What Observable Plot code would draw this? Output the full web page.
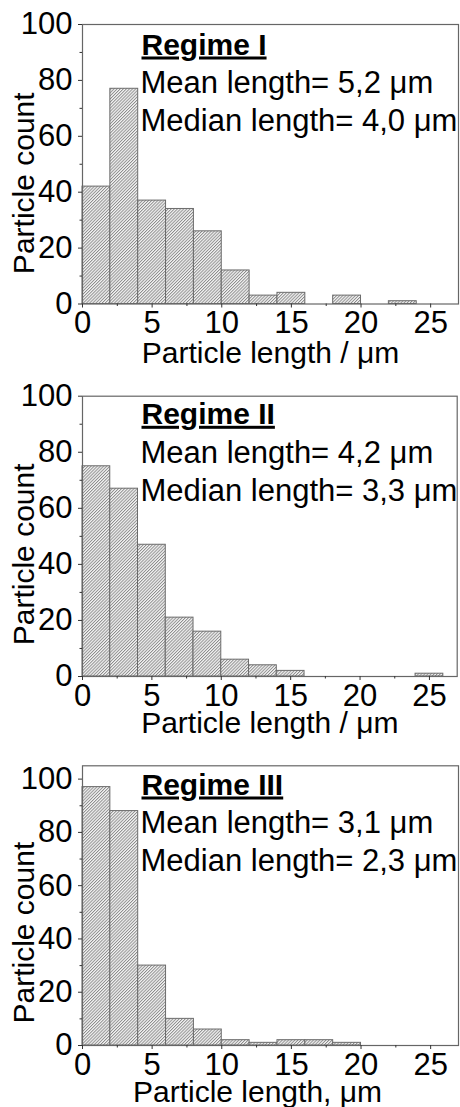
<!DOCTYPE html>
<html><head><meta charset="utf-8">
<script src="https://cdn.jsdelivr.net/npm/d3@7"></script>
<script src="https://cdn.jsdelivr.net/npm/@observablehq/plot@0.6"></script>
<style>
body{margin:0;background:#fff;}
#chart svg{display:block;}
</style>
</head><body><div id="chart"></div>
<script>
// ---- data ----
const binStarts = [0, 2, 4, 6, 8, 10, 12, 14, 16, 18, 20, 22, 24];
const binWidth = 2;
const countsI   = [42, 77, 37, 34, 26, 12, 3, 4, 0, 3, 0, 1, 0];
const countsII  = [75, 67, 47, 21, 16, 6, 4, 2, 0, 0, 0, 0, 1];
const countsIII = [97, 88, 30, 10, 6, 2, 1, 2, 2, 1, 0, 0, 0];
const regimeNames = ["Regime I", "Regime II", "Regime III"];
const meanLengths = ["5,2", "4,2", "3,1"];
const medianLengths = ["4,0", "3,3", "2,3"];
const xLabels = ["Particle length / μm", "Particle length / μm", "Particle length, μm"];
const yLabel = "Particle count";
const xMajorTicks = [0, 5, 10, 15, 20, 25];
const xMinorTicks = [2.5, 7.5, 12.5, 17.5, 22.5];
const yMajorTicks = [0, 20, 40, 60, 80, 100];
const yMinorTicks = [10, 30, 50, 70, 90];
const yMax = [100, 100, 105];
const xMax = 27;

// ---- layout ----
const layout = [
  {height: 370, mt: 24,   mb: 66.5, mr: 2,   xlab: 58.5, xlabDx: 0,   ylabDy: 19, tdy: [30, 68.7, 106]},
  {height: 370, mt: 25.7, mb: 64,   mr: 3.3, xlab: 56,   xlabDx: 0,   ylabDy: 18, tdy: [27.6, 67, 104.3]},
  {height: 367, mt: 25.3, mb: 62,   mr: 2,   xlab: 56.5, xlabDx: -13, ylabDy: 27, tdy: [28.7, 67.4, 104.7]}
];
const allCounts = [countsI, countsII, countsIII];
const FONT = "'Liberation Sans', Arial, Helvetica, sans-serif";
const FS = 30;
const FS_TICK = 31;
const FS_NOTE = 31;

const container = document.getElementById("chart");

allCounts.forEach((counts, i) => {
  const L = layout[i];
  const bins = binStarts.map((s, j) => ({x1: s, x2: s + binWidth, count: counts[j]})).filter(d => d.count > 0);
  const pid = "hatch" + i;
  const svg = Plot.plot({
    width: 460,
    height: L.height,
    marginTop: L.mt,
    marginBottom: L.mb,
    marginLeft: 82,
    marginRight: L.mr,
    style: {fontFamily: FONT, fontSize: FS + "px", color: "#000", background: "#fff"},
    x: {domain: [0, xMax], label: null},
    y: {domain: [0, yMax[i]], label: null},
    marks: [
      Plot.rectY(bins, {x1: "x1", x2: "x2", y: "count", fill: `url(#${pid})`, stroke: "#6b6b6b", strokeWidth: 1}),
      Plot.frame({stroke: "#666", strokeWidth: 1.2}),
      Plot.axisX(xMajorTicks, {tickSize: 4, tickPadding: 3, fontSize: FS_TICK, stroke: "#333", label: null}),
      Plot.axisX(xMinorTicks, {tickSize: 2.5, tickFormat: () => "", stroke: "#333", label: null}),
      Plot.axisY(yMajorTicks, {tickSize: 4, tickPadding: 6, fontSize: FS_TICK, stroke: "#333", label: null}),
      Plot.axisY(yMinorTicks, {tickSize: 2.5, tickFormat: () => "", stroke: "#333", label: null}),
      Plot.text([xLabels[i]], {text: d => d, frameAnchor: "bottom", dx: L.xlabDx, dy: L.xlab, lineAnchor: "bottom", textAnchor: "middle", fontSize: FS}),
      Plot.text([yLabel], {text: d => d, frameAnchor: "left", rotate: -90, dx: -49, dy: L.ylabDy, lineAnchor: "bottom", textAnchor: "middle", fontSize: FS}),
      Plot.text([regimeNames[i]], {text: d => d, frameAnchor: "top-left", dx: 59, dy: L.tdy[0], lineAnchor: "bottom", textAnchor: "start", fontSize: FS, fontWeight: "bold"}),
      Plot.text([`Mean length= ${meanLengths[i]} μm`], {text: d => d, frameAnchor: "top-left", dx: 58, dy: L.tdy[1], lineAnchor: "bottom", textAnchor: "start", fontSize: FS_NOTE}),
      Plot.text([`Median length= ${medianLengths[i]} μm`], {text: d => d, frameAnchor: "top-left", dx: 58, dy: L.tdy[2], lineAnchor: "bottom", textAnchor: "start", fontSize: FS_NOTE})
    ]
  });
  // hatch pattern definition
  const ns = "http://www.w3.org/2000/svg";
  const defs = document.createElementNS(ns, "defs");
  defs.innerHTML = `<pattern id="${pid}" patternUnits="userSpaceOnUse" width="2.2" height="2.2" patternTransform="rotate(45)">
      <rect width="2.2" height="2.2" fill="#f4f4f4"></rect>
      <line x1="0.5" y1="0" x2="0.5" y2="2.2" stroke="#7a7a7a" stroke-width="0.8"></line>
    </pattern>`;
  svg.insertBefore(defs, svg.firstChild);
  // underline the regime title
  svg.querySelectorAll("text").forEach(t => {
    if (regimeNames.includes(t.textContent)) t.setAttribute("text-decoration", "underline");
  });
  container.appendChild(svg);
});
</script>
</body></html>
